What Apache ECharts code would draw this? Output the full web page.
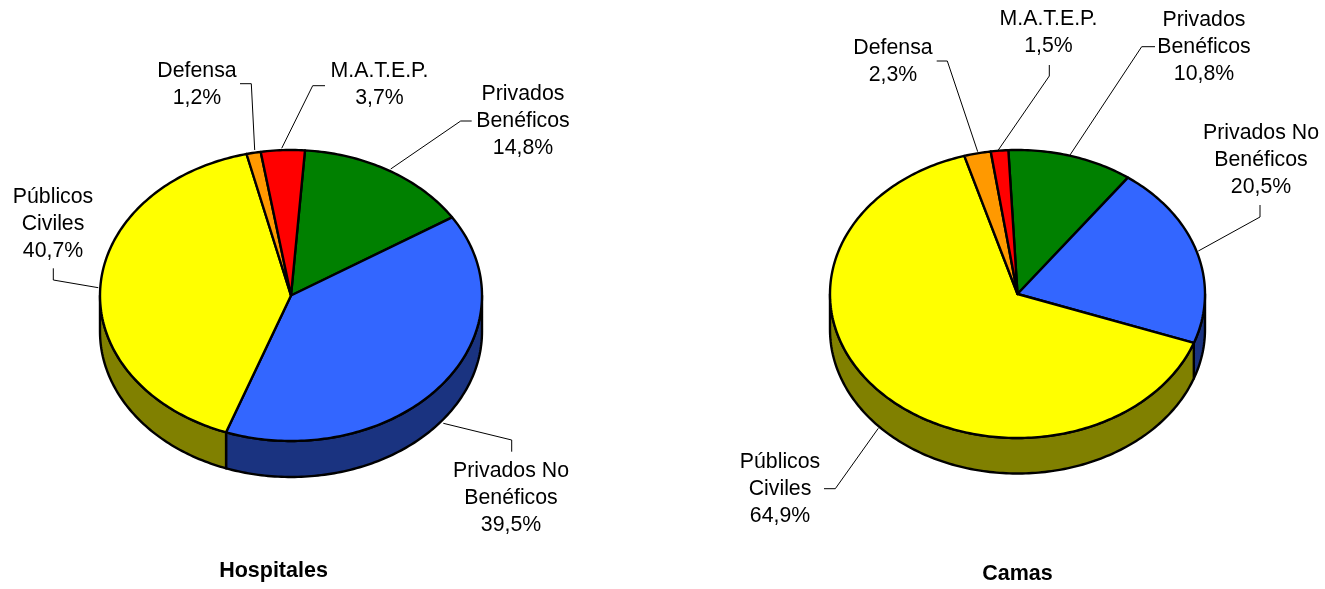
<!DOCTYPE html>
<html>
<head>
<meta charset="utf-8">
<style>html,body{margin:0;padding:0;background:#fff}#c{width:1325px;height:589px}</style>
<script src="https://cdn.jsdelivr.net/npm/echarts@6/dist/echarts.min.js"></script>
</head>
<body>
<div id="c"></div>
<script>
// ---- data ----
const categories = ['Privados\nBenéficos', 'Privados No\nBenéficos', 'Públicos\nCiviles', 'Defensa', 'M.A.T.E.P.'];
const hospitalesValues = [14.8, 39.5, 40.7, 1.2, 3.7];
const camasValues = [10.8, 20.5, 64.9, 2.3, 1.5];
const chartTitles = ['Hospitales', 'Camas'];

// ---- styles ----
const topColors = ['#008000', '#3366FF', '#FFFF00', '#FF9900', '#FF0000'];
const wallColors = ['#004000', '#1A3380', '#808000', '#804C00', '#800000'];
const FONT = '"Liberation Sans", Arial, sans-serif';

// ---- layout ----
const pieLayouts = [
  { cx: 291, cy: 295.5, rx: 191, ry: 145.5, depth: 36, start: 4.2 },
  { cx: 1017.5, cy: 294, rx: 187.5, ry: 144, depth: 35.5, start: -2.8 }
];
const titleAnchors = [[273.5, 571], [1017.5, 574]];
const labelAnchors = [
  [[523, 121], [511, 498], [53, 224], [197, 85], [379.5, 85]],
  [[1204, 47], [1261, 160], [780, 489], [893, 62], [1048.5, 33]]
];
const leaderLines = [
  [
    [[471.7, 121], [460.7, 121], [390.7, 169]],
    [[511.7, 451.7], [511.7, 440], [443.3, 423.3]],
    [[53.3, 268.3], [53.3, 280], [98.3, 287.7]],
    [[240, 83.7], [251.3, 83.7], [254.7, 150]],
    [[325, 85.7], [312.7, 85.7], [281.7, 148.3]]
  ],
  [
    [[1155, 46.7], [1141.7, 46.7], [1070, 155]],
    [[1260, 205], [1260, 217], [1198.3, 251]],
    [[824, 488.7], [835.3, 488.7], [878.3, 428.3]],
    [[936.7, 61], [947.3, 61], [977.7, 151.7]],
    [[1049.3, 65], [1049.3, 76], [998.3, 150]]
  ]
];

function pt(L, deg, dy) {
  const a = deg * Math.PI / 180;
  return [L.cx + L.rx * Math.sin(a), L.cy - L.ry * Math.cos(a) + (dy || 0)];
}
function arc(L, a0, a1, dy) {
  const n = Math.max(2, Math.ceil(Math.abs(a1 - a0)));
  const out = [];
  for (let i = 0; i <= n; i++) out.push(pt(L, a0 + (a1 - a0) * i / n, dy));
  return out;
}
function sliceAngles(values, L, i) {
  let acc = 0;
  for (let k = 0; k < i; k++) acc += values[k];
  const total = values.reduce((s, v) => s + v, 0);
  return [L.start + acc / total * 360, L.start + (acc + values[i]) / total * 360];
}
function formatPct(v) { return v.toFixed(1).replace('.', ','); }

function wallSeries(values, L) {
  return {
    type: 'custom', coordinateSystem: 'none', z: 1, silent: true, clip: false,
    data: values, animation: false,
    renderItem(params) {
      const [a0, a1] = sliceAngles(values, L, params.dataIndex);
      const children = [];
      // a visible wall is the part of the slice on the front half (90..270 deg)
      const lo = Math.max(a0, 90), hi = Math.min(a1, 270);
      if (hi > lo) {
        const pts = arc(L, lo, hi, 0).concat(arc(L, hi, lo, L.depth));
        children.push({
          type: 'polygon', shape: { points: pts },
          style: { fill: wallColors[params.dataIndex], stroke: '#000', lineWidth: 2.4, lineJoin: 'round' }
        });
      }
      return { type: 'group', children };
    }
  };
}
function topSeries(values, L) {
  return {
    type: 'custom', coordinateSystem: 'none', z: 2, silent: true, clip: false,
    data: values, animation: false,
    renderItem(params) {
      const [a0, a1] = sliceAngles(values, L, params.dataIndex);
      const pts = [[L.cx, L.cy]].concat(arc(L, a0, a1, 0));
      return {
        type: 'polygon', shape: { points: pts },
        style: { fill: topColors[params.dataIndex], stroke: '#000', lineWidth: 2.4, lineJoin: 'round' }
      };
    }
  };
}
function labelSeries(values, idx) {
  return {
    type: 'custom', coordinateSystem: 'none', z: 3, silent: true, clip: false,
    data: values, animation: false,
    renderItem(params) {
      const i = params.dataIndex;
      const a = labelAnchors[idx][i];
      return {
        type: 'group',
        children: [
          {
            type: 'polyline', shape: { points: leaderLines[idx][i] },
            style: { fill: null, stroke: '#000', lineWidth: 1 }
          },
          {
            type: 'text', x: a[0], y: a[1],
            style: {
              text: categories[i] + '\n' + formatPct(values[i]) + '%',
              font: '21.3px ' + FONT, lineHeight: 27, fill: '#000',
              align: 'center', verticalAlign: 'middle'
            }
          }
        ]
      };
    }
  };
}

const chart = echarts.init(document.getElementById('c'), null, { renderer: 'canvas' });
const allValues = [hospitalesValues, camasValues];
chart.setOption({
  animation: false,
  backgroundColor: '#fff',
  title: chartTitles.map((t, i) => ({
    text: t, left: titleAnchors[i][0], top: titleAnchors[i][1],
    textAlign: 'center', textVerticalAlign: 'middle', padding: 0,
    textStyle: { fontFamily: FONT, fontSize: 21.5, fontWeight: 'bold', color: '#000' }
  })),
  series: allValues.flatMap((v, i) => [
    wallSeries(v, pieLayouts[i]),
    topSeries(v, pieLayouts[i]),
    labelSeries(v, i)
  ])
});
</script>
</body>
</html>
